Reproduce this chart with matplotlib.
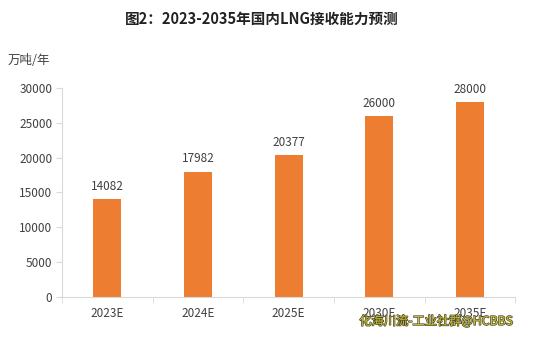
import numpy as np
import matplotlib.pyplot as plt
import matplotlib.patheffects as pe

plt.rcParams['font.family'] = ['Noto Sans CJK SC', 'DejaVu Sans']

years = ['2023E', '2024E', '2025E', '2030E', '2035E']
capacity = [14082, 17982, 20377, 26000, 28000]

bar_color = '#ED7D31'
axis_color = '#D9D9D9'
text_color = '#404040'

fig = plt.figure(figsize=(5.35, 3.37), dpi=100)
ax = fig.add_axes([0.116, 0.119, 0.847, 0.620])

x = np.arange(len(years))
bars = ax.bar(x, capacity, width=0.31, color=bar_color, zorder=2)
for xi, v in zip(x, capacity):
    ax.text(xi, v + 900, str(v), ha='center', va='bottom', fontsize=8.5, color=text_color)

ax.set_xlim(-0.5, len(years) - 0.5)
ax.set_ylim(0, 30000)
ax.set_yticks(np.arange(0, 30001, 5000))
ax.set_xticks(x)
ax.set_xticklabels(years)
ax.set_xticks(np.arange(-0.5, len(years), 1), minor=True)
ax.tick_params(axis='x', which='major', length=0, pad=7, labelsize=8.5, labelcolor=text_color)
ax.tick_params(axis='x', which='minor', length=4, color=axis_color)
ax.tick_params(axis='y', length=4, color=axis_color, labelsize=8.5, labelcolor=text_color, pad=3)

for side in ['top', 'right']:
    ax.spines[side].set_visible(False)
ax.spines['left'].set_color(axis_color)
ax.spines['bottom'].set_color(axis_color)

fig.text(0.49, 0.945, '图2：2023-2035年国内LNG接收能力预测', ha='center', va='center',
         fontsize=10.5, fontweight='bold', color='#222222')
fig.text(0.015, 0.82, '万吨/年', ha='left', va='center', fontsize=9, color=text_color)

# watermark, bottom right
wm = fig.text(0.959, 0.047, '化海川流-工业社群@HCBBS', ha='right', va='center',
              fontsize=8.8, color='#CFC23C')
wm.set_path_effects([pe.withStroke(linewidth=1.0, foreground='#4A4A2A')])

fig.savefig('out.png', dpi=100, facecolor='white')
